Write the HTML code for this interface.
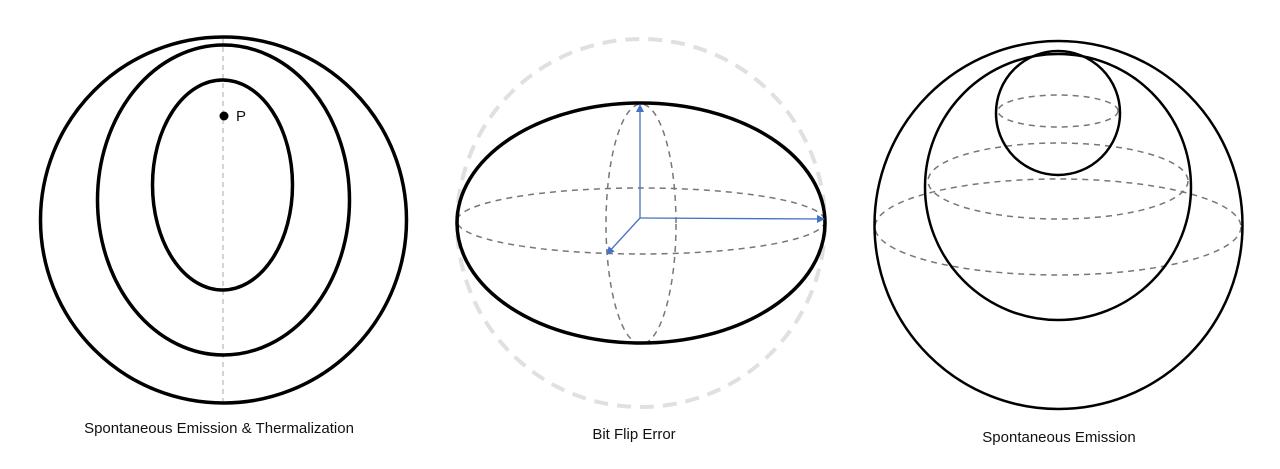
<!DOCTYPE html>
<html><head><meta charset="utf-8"><style>
body{margin:0;background:#fff;width:1280px;height:469px;overflow:hidden}
svg{display:block}
text{font-family:"Liberation Sans",sans-serif;font-size:15px;fill:#111}
</style></head><body>
<svg width="1280" height="469" viewBox="0 0 1280 469">
<defs><marker id="ah" markerWidth="8" markerHeight="8" refX="7" refY="4" orient="auto" markerUnits="userSpaceOnUse"><path d="M0,0 L8,4 L0,8 z" fill="#4472c4"/></marker></defs>
<g>
<line x1="223" y1="38" x2="223" y2="402" stroke="#aaa" stroke-width="1" stroke-dasharray="5,4"/>
<circle cx="223.5" cy="220" r="183" fill="none" stroke="#000" stroke-width="3.5"/>
<ellipse cx="223.5" cy="200" rx="126" ry="155" fill="none" stroke="#000" stroke-width="3.5"/>
<ellipse cx="222.5" cy="185" rx="70" ry="105" fill="none" stroke="#000" stroke-width="3.5"/>
<circle cx="224" cy="116" r="4.5" fill="#000"/>
<text x="236" y="121">P</text>
<text x="219" y="433" text-anchor="middle">Spontaneous Emission &amp; Thermalization</text>
</g>
<g>
<circle cx="641" cy="223" r="184" fill="none" stroke="#e0e0e0" stroke-width="4" stroke-dasharray="14,9"/>
<ellipse cx="641" cy="221" rx="184" ry="33" fill="none" stroke="#777" stroke-width="1.5" stroke-dasharray="6,5"/>
<ellipse cx="641" cy="224" rx="35" ry="120" fill="none" stroke="#777" stroke-width="1.5" stroke-dasharray="6,5"/>
<ellipse cx="641" cy="223" rx="184" ry="120" fill="none" stroke="#000" stroke-width="3.5"/>
<line x1="640" y1="218" x2="640" y2="105" stroke="#4472c4" stroke-width="1.3" marker-end="url(#ah)"/>
<line x1="640" y1="218" x2="824" y2="219" stroke="#4472c4" stroke-width="1.3" marker-end="url(#ah)"/>
<line x1="640" y1="218" x2="607" y2="254" stroke="#4472c4" stroke-width="1.3" marker-end="url(#ah)"/>
<text x="634" y="439" text-anchor="middle">Bit Flip Error</text>
</g>
<g>
<ellipse cx="1058" cy="111" rx="60" ry="16" fill="none" stroke="#777" stroke-width="1.5" stroke-dasharray="6,5"/>
<ellipse cx="1058" cy="181" rx="130" ry="38" fill="none" stroke="#777" stroke-width="1.5" stroke-dasharray="6,5"/>
<ellipse cx="1058" cy="227" rx="183" ry="48" fill="none" stroke="#777" stroke-width="1.5" stroke-dasharray="6,5"/>
<circle cx="1058.5" cy="225" r="184" fill="none" stroke="#000" stroke-width="2.5"/>
<circle cx="1058" cy="187" r="133" fill="none" stroke="#000" stroke-width="2.5"/>
<circle cx="1058" cy="113" r="62" fill="none" stroke="#000" stroke-width="2.5"/>
<text x="1059" y="442" text-anchor="middle">Spontaneous Emission</text>
</g>
</svg>
</body></html>
